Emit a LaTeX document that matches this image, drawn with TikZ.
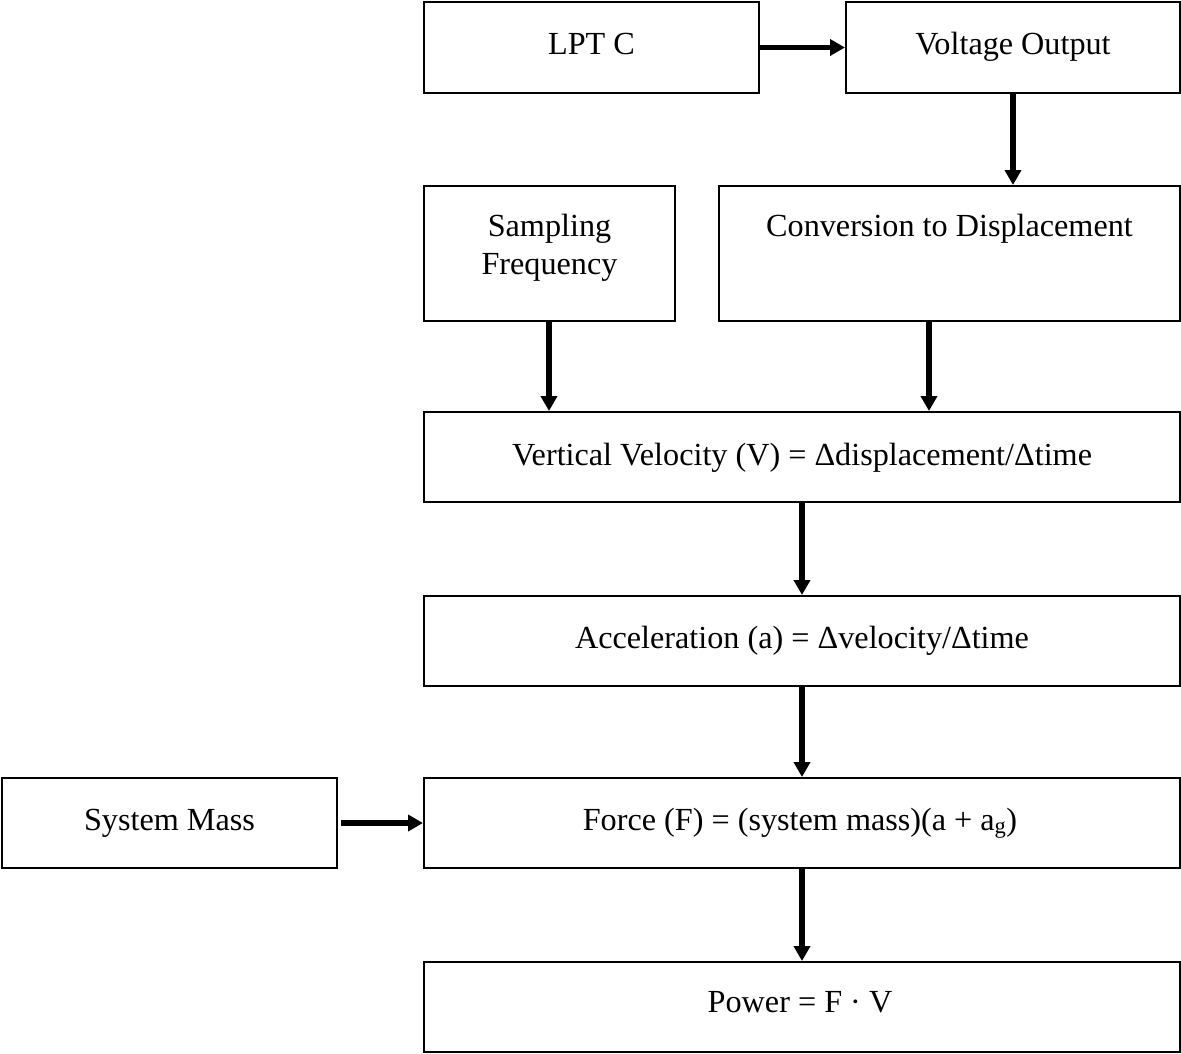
\documentclass[tikz,border=0pt]{standalone}
\usepackage{fontspec}
\setmainfont{Liberation Serif}
\usetikzlibrary{arrows.meta}

\begin{document}
\begin{tikzpicture}[x=1pt,y=-1pt,
  box/.style={draw=black,line width=2pt,rectangle,inner sep=0pt,fill=white},
  lbl/.style={anchor=base,inner sep=0pt,font=\fontsize{32.2}{38}\selectfont},
  arr/.style={line width=5.5pt,-{Triangle[length=15pt,width=16pt]}}]
  \useasboundingbox (0,0) rectangle (1181,1053);

  % boxes
  \node[box,minimum width=335pt,minimum height=91pt]  (lpt)   at (591.5,47.5)  {};
  \node[box,minimum width=334pt,minimum height=91pt]  (volt)  at (1013,47.5)   {};
  \node[box,minimum width=251pt,minimum height=135pt] (samp)  at (549.5,253.5) {};
  \node[box,minimum width=461pt,minimum height=135pt] (conv)  at (949.5,253.5) {};
  \node[box,minimum width=756pt,minimum height=90pt]  (vel)   at (802,457)     {};
  \node[box,minimum width=756pt,minimum height=90pt]  (acc)   at (802,641)     {};
  \node[box,minimum width=335pt,minimum height=90pt]  (mass)  at (169.5,823)   {};
  \node[box,minimum width=756pt,minimum height=90pt]  (force) at (802,823)     {};
  \node[box,minimum width=756pt,minimum height=90pt]  (power) at (802,1007)    {};

  % labels
  \node[lbl] (lptT)   at (591.5,54)  {LPT C};
  \node[lbl] (voltT)  at (1013,54)   {Voltage Output};
  \node[lbl] (sampT1) at (549.5,236) {Sampling};
  \node[lbl] (sampT2) at (549.5,274) {Frequency};
  \node[lbl] (convT)  at (949.5,236) {Conversion to Displacement};
  \node[lbl] (velT)   at (802,465)   {Vertical Velocity (V) = Δdisplacement/Δtime};
  \node[lbl] (accT)   at (802,648)   {Acceleration (a) = Δvelocity/Δtime};
  \node[lbl] (massT)  at (169.5,830) {System Mass};
  \node[lbl] (forceT) at (800,830)   {Force (F) = (system mass)(a + a\textsubscript{g})};
  \node[lbl] (powerT) at (800,1012)  {Power = F · V};

  % connector columns
  \coordinate (cs) at (549,0);
  \coordinate (cc) at (929,0);

  % connectors
  \draw[arr] (lpt.east) -- (volt.west);
  \draw[arr] (volt.south) -- (conv.north -| volt.south);
  \draw[arr] (samp.south -| cs) -- (vel.north -| cs);
  \draw[arr] (conv.south -| cc) -- (vel.north -| cc);
  \draw[arr] (vel.south) -- (acc.north);
  \draw[arr] (acc.south) -- (force.north);
  \draw[arr] ([xshift=3pt]mass.east) -- (force.west);
  \draw[arr] (force.south) -- (power.north);
\end{tikzpicture}
\end{document}
